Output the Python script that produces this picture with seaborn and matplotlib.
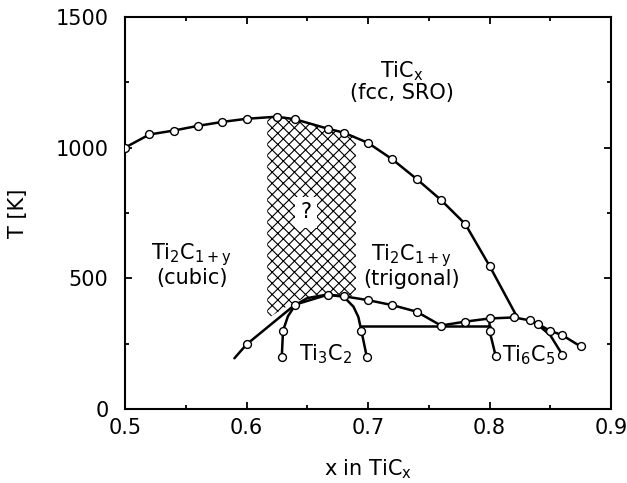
import matplotlib
matplotlib.use("Agg")
import numpy as np
import seaborn as sns
import matplotlib.pyplot as plt
from matplotlib.ticker import MultipleLocator

# ----------------------------- DATA -----------------------------
# upper boundary: TiCx (fcc, SRO) -> ordered phases
top_x = [0.50, 0.52, 0.54, 0.56, 0.58, 0.60, 0.625, 0.64, 0.667, 0.68, 0.70, 0.72, 0.74, 0.76, 0.78, 0.80, 0.823]
top_T = [1000, 1050, 1065, 1083, 1098, 1110, 1118, 1108, 1072, 1057, 1018, 955, 880, 800, 708, 548, 350]
top_mark_x = top_x[:-1]
top_mark_T = top_T[:-1]

# lower boundary: Ti2C1+y -> Ti3C2 / Ti6C5
low_x = [0.59, 0.60, 0.64, 0.667, 0.68, 0.70, 0.72, 0.74, 0.76, 0.78, 0.80, 0.82, 0.833, 0.84, 0.85, 0.86, 0.875]
low_T = [195, 248, 400, 438, 432, 417, 398, 373, 320, 335, 347, 351, 340, 325, 300, 283, 240]
low_mark_x = low_x[1:]
low_mark_T = low_T[1:]

# Ti3C2 dome
dome_x = [0.629, 0.630, 0.634, 0.640, 0.650, 0.666, 0.680, 0.688, 0.692, 0.6945, 0.699]
dome_T = [200, 300, 355, 398, 425, 438, 430, 392, 353, 300, 200]
dome_mark_x = [0.629, 0.630, 0.6945, 0.699]
dome_mark_T = [200, 300, 300, 200]

# two-phase tie line
tie_x = [0.694, 0.80]
tie_T = [320, 320]

# Ti6C5 branches
t65_left_x = [0.80, 0.80, 0.805]
t65_left_T = [347, 300, 205]
t65_right_x = [0.838, 0.85, 0.86]
t65_right_T = [330, 283, 208]
t65_mark_x = [0.80, 0.805, 0.86]
t65_mark_T = [300, 205, 208]

# unknown (hatched) region
hatch_x = [0.617, 0.625, 0.64, 0.655, 0.667, 0.68, 0.69]
hatch_top = [1115, 1118, 1108, 1090, 1072, 1057, 1043]
hatch_bot = [345, 370, 412, 435, 442, 436, 432]

# ----------------------------- STYLE -----------------------------
sns.set_style("ticks", rc={'axes.edgecolor': 'black', 'text.color': 'black',
                           'axes.labelcolor': 'black', 'xtick.color': 'black',
                           'ytick.color': 'black'})
plt.rcParams['font.family'] = ['DejaVu Sans']
plt.rcParams['mathtext.fontset'] = 'dejavusans'
plt.rcParams['hatch.linewidth'] = 0.8
FS = 15

fig = plt.figure(figsize=(6.27, 4.83), dpi=100)
ax = fig.add_axes([0.1995, 0.1526, 0.775, 0.8128])

# ----------------------------- PLOT -----------------------------
ax.fill_between(hatch_x, hatch_bot, hatch_top, facecolor='white', edgecolor='black',
                hatch='xxx', linewidth=0, zorder=1)

line_kw = dict(color='black', linewidth=1.8, sort=False, estimator=None, ax=ax, zorder=3)
for lx, ly in [(top_x, top_T), (low_x, low_T), (dome_x, dome_T), (tie_x, tie_T),
               (t65_left_x, t65_left_T), (t65_right_x, t65_right_T)]:
    sns.lineplot(x=lx, y=ly, **line_kw)

mark_x = top_mark_x + low_mark_x + dome_mark_x + t65_mark_x
mark_T = top_mark_T + low_mark_T + dome_mark_T + t65_mark_T
sns.scatterplot(x=mark_x, y=mark_T, s=32, color='white', edgecolor='black',
                linewidth=1.0, zorder=5, ax=ax)

# ----------------------------- LABELS -----------------------------
txt = dict(ha='center', va='center', fontsize=FS, linespacing=1.0)
ax.text(0.728, 1254, "TiC$_\\mathregular{x}$\n(fcc, SRO)", **txt)
ax.text(0.555, 551, "Ti$_\\mathregular{2}$C$_\\mathregular{1+y}$\n(cubic)", **txt)
ax.text(0.736, 550, "Ti$_\\mathregular{2}$C$_\\mathregular{1+y}$\n(trigonal)", **txt)
ax.text(0.665, 210, r"Ti$_\mathregular{3}$C$_\mathregular{2}$", **txt)
ax.text(0.832, 207, r"Ti$_\mathregular{6}$C$_\mathregular{5}$", **txt)
ax.text(0.649, 752, "?", zorder=4,
        bbox=dict(boxstyle='square,pad=0.25', facecolor='white', edgecolor='none'), **txt)

# ----------------------------- AXES -----------------------------
ax.set_xlim(0.5, 0.9)
ax.set_ylim(0, 1500)
ax.xaxis.set_major_locator(MultipleLocator(0.1))
ax.xaxis.set_minor_locator(MultipleLocator(0.05))
ax.yaxis.set_major_locator(MultipleLocator(500))
ax.yaxis.set_minor_locator(MultipleLocator(250))
ax.set_xticks([0.5, 0.6, 0.7, 0.8, 0.9], ["0.5", "0.6", "0.7", "0.8", "0.9"])
ax.tick_params(which='both', direction='in', top=True, right=True, width=1.3, labelsize=FS)
ax.tick_params(which='major', length=5)
ax.tick_params(which='minor', length=3)
ax.tick_params(axis='x', pad=6)
ax.tick_params(axis='y', pad=12)
for sp in ax.spines.values():
    sp.set_linewidth(1.5)

ax.set_xlabel(r"x in TiC$_\mathregular{x}$", fontsize=FS)
ax.set_ylabel("T [K]", fontsize=FS)
ax.xaxis.set_label_coords(0.5, -0.122)
ax.yaxis.set_label_coords(-0.20, 0.5)

fig.savefig("out.png", dpi=100)
plt.close(fig)
